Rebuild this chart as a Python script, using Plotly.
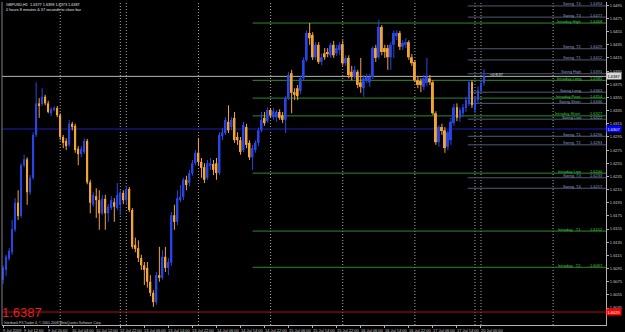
import plotly.graph_objects as go

# ---------------- data (GBPUSD H1, 9 Jul 05:00 -> 20 Jul 01:00) ----------------
opens = [
    1.6078, 1.6093, 1.6110, 1.6120, 1.6154, 1.6195, 1.6175, 1.6252, 1.6261, 1.6211,
    1.6233, 1.6298, 1.6346, 1.6345, 1.6356, 1.6346, 1.6331, 1.6336, 1.6339, 1.6328,
    1.6295, 1.6289, 1.6283, 1.6315, 1.6312, 1.6277, 1.6269, 1.6272, 1.6289, 1.6226,
    1.6192, 1.6205, 1.6199, 1.6179, 1.6201, 1.6179, 1.6187, 1.6196, 1.6187, 1.6192,
    1.6210, 1.6199, 1.6216, 1.6184, 1.6131, 1.6126, 1.6111, 1.6100, 1.6096, 1.6075,
    1.6058, 1.6044, 1.6085, 1.6081, 1.6113, 1.6096, 1.6104, 1.6176, 1.6166, 1.6199,
    1.6204, 1.6230, 1.6225, 1.6240, 1.6255, 1.6271, 1.6257, 1.6249, 1.6233, 1.6251,
    1.6254, 1.6255, 1.6240, 1.6296, 1.6301, 1.6318, 1.6310, 1.6324, 1.6295, 1.6290,
    1.6275, 1.6310, 1.6286, 1.6264, 1.6275, 1.6286, 1.6305, 1.6324, 1.6319, 1.6336,
    1.6325, 1.6325, 1.6333, 1.6328, 1.6321, 1.6354, 1.6392, 1.6363, 1.6369, 1.6365,
    1.6384, 1.6412, 1.6453, 1.6450, 1.6416, 1.6435, 1.6409, 1.6422, 1.6424, 1.6419,
    1.6435, 1.6422, 1.6427, 1.6436, 1.6407, 1.6415, 1.6394, 1.6386, 1.6394, 1.6378,
    1.6369, 1.6381, 1.6378, 1.6386, 1.6430, 1.6416, 1.6462, 1.6430, 1.6430, 1.6416,
    1.6435, 1.6448, 1.6453, 1.6432, 1.6435, 1.6439, 1.6416, 1.6409, 1.6381, 1.6380,
    1.6371, 1.6377, 1.6384, 1.6378, 1.6331, 1.6287, 1.6310, 1.6305, 1.6280, 1.6290,
    1.6316, 1.6340, 1.6324, 1.6331, 1.6339, 1.6346, 1.6378, 1.6336, 1.6351, 1.6366,
    1.6377,
]
highs = [
    1.6100, 1.6116, 1.6126, 1.6169, 1.6202, 1.6214, 1.6255, 1.6268, 1.6264, 1.6237,
    1.6302, 1.6378, 1.6354, 1.6369, 1.6359, 1.6350, 1.6340, 1.6342, 1.6342, 1.6331,
    1.6298, 1.6293, 1.6321, 1.6318, 1.6315, 1.6281, 1.6281, 1.6293, 1.6292, 1.6230,
    1.6211, 1.6217, 1.6214, 1.6207, 1.6207, 1.6193, 1.6205, 1.6202, 1.6225, 1.6214,
    1.6214, 1.6220, 1.6219, 1.6187, 1.6142, 1.6138, 1.6116, 1.6105, 1.6105, 1.6085,
    1.6062, 1.6090, 1.6128, 1.6123, 1.6128, 1.6111, 1.6181, 1.6192, 1.6214, 1.6222,
    1.6233, 1.6236, 1.6245, 1.6260, 1.6275, 1.6293, 1.6263, 1.6255, 1.6260, 1.6263,
    1.6260, 1.6263, 1.6302, 1.6309, 1.6325, 1.6343, 1.6325, 1.6333, 1.6302, 1.6295,
    1.6318, 1.6315, 1.6290, 1.6283, 1.6290, 1.6309, 1.6333, 1.6333, 1.6340, 1.6339,
    1.6339, 1.6336, 1.6337, 1.6333, 1.6357, 1.6394, 1.6397, 1.6369, 1.6374, 1.6388,
    1.6416, 1.6457, 1.6468, 1.6454, 1.6439, 1.6439, 1.6422, 1.6430, 1.6430, 1.6438,
    1.6441, 1.6435, 1.6439, 1.6442, 1.6419, 1.6419, 1.6403, 1.6403, 1.6397, 1.6415,
    1.6389, 1.6391, 1.6391, 1.6433, 1.6435, 1.6473, 1.6465, 1.6435, 1.6435, 1.6439,
    1.6457, 1.6457, 1.6456, 1.6442, 1.6445, 1.6442, 1.6421, 1.6412, 1.6386, 1.6384,
    1.6389, 1.6415, 1.6389, 1.6381, 1.6334, 1.6313, 1.6315, 1.6310, 1.6305, 1.6324,
    1.6345, 1.6346, 1.6340, 1.6345, 1.6356, 1.6381, 1.6381, 1.6357, 1.6372, 1.6381,
    1.6398,
]
lows = [
    1.6072, 1.6084, 1.6107, 1.6116, 1.6151, 1.6169, 1.6172, 1.6249, 1.6192, 1.6207,
    1.6230, 1.6295, 1.6324, 1.6342, 1.6343, 1.6331, 1.6327, 1.6334, 1.6325, 1.6290,
    1.6278, 1.6275, 1.6280, 1.6305, 1.6271, 1.6252, 1.6264, 1.6269, 1.6223, 1.6179,
    1.6189, 1.6172, 1.6154, 1.6176, 1.6154, 1.6166, 1.6184, 1.6166, 1.6184, 1.6176,
    1.6193, 1.6192, 1.6181, 1.6125, 1.6120, 1.6105, 1.6093, 1.6070, 1.6066, 1.6053,
    1.6037, 1.6040, 1.6075, 1.6078, 1.6090, 1.6085, 1.6099, 1.6154, 1.6161, 1.6196,
    1.6199, 1.6214, 1.6220, 1.6236, 1.6252, 1.6252, 1.6233, 1.6225, 1.6230, 1.6245,
    1.6237, 1.6230, 1.6237, 1.6290, 1.6298, 1.6301, 1.6305, 1.6286, 1.6283, 1.6268,
    1.6272, 1.6278, 1.6260, 1.6245, 1.6271, 1.6281, 1.6302, 1.6312, 1.6316, 1.6324,
    1.6321, 1.6318, 1.6321, 1.6316, 1.6301, 1.6351, 1.6331, 1.6351, 1.6351, 1.6360,
    1.6381, 1.6409, 1.6435, 1.6412, 1.6412, 1.6406, 1.6404, 1.6412, 1.6416, 1.6415,
    1.6415, 1.6418, 1.6419, 1.6403, 1.6403, 1.6384, 1.6381, 1.6383, 1.6369, 1.6362,
    1.6356, 1.6377, 1.6371, 1.6383, 1.6409, 1.6413, 1.6419, 1.6415, 1.6397, 1.6397,
    1.6415, 1.6442, 1.6427, 1.6427, 1.6430, 1.6412, 1.6403, 1.6378, 1.6369, 1.6363,
    1.6366, 1.6372, 1.6374, 1.6328, 1.6283, 1.6280, 1.6298, 1.6271, 1.6275, 1.6283,
    1.6312, 1.6319, 1.6318, 1.6325, 1.6333, 1.6342, 1.6339, 1.6331, 1.6346, 1.6363,
    1.6373,
]
closes = [
    1.6096, 1.6113, 1.6122, 1.6155, 1.6195, 1.6175, 1.6252, 1.6261, 1.6211, 1.6233,
    1.6298, 1.6346, 1.6343, 1.6356, 1.6346, 1.6333, 1.6337, 1.6339, 1.6328, 1.6295,
    1.6286, 1.6281, 1.6315, 1.6310, 1.6275, 1.6269, 1.6277, 1.6289, 1.6226, 1.6195,
    1.6207, 1.6199, 1.6179, 1.6201, 1.6179, 1.6189, 1.6199, 1.6189, 1.6207, 1.6210,
    1.6199, 1.6216, 1.6184, 1.6128, 1.6125, 1.6111, 1.6100, 1.6093, 1.6075, 1.6058,
    1.6044, 1.6085, 1.6081, 1.6113, 1.6096, 1.6105, 1.6176, 1.6166, 1.6202, 1.6204,
    1.6230, 1.6222, 1.6240, 1.6255, 1.6271, 1.6257, 1.6248, 1.6230, 1.6255, 1.6255,
    1.6245, 1.6240, 1.6298, 1.6302, 1.6321, 1.6305, 1.6321, 1.6290, 1.6290, 1.6272,
    1.6313, 1.6283, 1.6264, 1.6278, 1.6286, 1.6305, 1.6321, 1.6316, 1.6336, 1.6328,
    1.6334, 1.6333, 1.6324, 1.6321, 1.6354, 1.6389, 1.6362, 1.6359, 1.6357, 1.6384,
    1.6412, 1.6453, 1.6445, 1.6416, 1.6435, 1.6409, 1.6416, 1.6416, 1.6421, 1.6435,
    1.6419, 1.6430, 1.6435, 1.6407, 1.6415, 1.6389, 1.6386, 1.6397, 1.6374, 1.6371,
    1.6384, 1.6386, 1.6386, 1.6430, 1.6415, 1.6462, 1.6424, 1.6424, 1.6416, 1.6435,
    1.6453, 1.6453, 1.6432, 1.6438, 1.6439, 1.6416, 1.6407, 1.6381, 1.6374, 1.6374,
    1.6384, 1.6386, 1.6378, 1.6331, 1.6287, 1.6310, 1.6304, 1.6278, 1.6302, 1.6318,
    1.6340, 1.6324, 1.6336, 1.6340, 1.6351, 1.6378, 1.6343, 1.6351, 1.6366, 1.6377,
    1.6387,
]

# time axis labels (bar index of label, text)
xtick_idx = [0, 7, 15, 23, 31, 39, 47, 55, 63, 71, 79, 87, 95, 103, 111, 119, 127, 135, 143, 151, 159]
xtick_text = ["9 Jul 2009", "9 Jul 12:00", "9 Jul 20:00", "10 Jul 04:00", "10 Jul 12:00",
              "12 Jul 22:00", "13 Jul 06:00", "13 Jul 14:00", "13 Jul 22:00", "14 Jul 06:00",
              "14 Jul 14:00", "14 Jul 22:00", "15 Jul 06:00", "15 Jul 14:00", "15 Jul 22:00",
              "16 Jul 06:00", "16 Jul 14:00", "16 Jul 22:00", "17 Jul 06:00", "17 Jul 14:00",
              "20 Jul 00:00"]
# day separators (bar index)
separators = [19, 39, 41, 65, 89, 113, 137, 157, 159, 183]

ytick_vals = [1.6035, 1.6055, 1.6075, 1.6095, 1.6115, 1.6135, 1.6155, 1.6175, 1.6195, 1.6215,
              1.6235, 1.6255, 1.6275, 1.6295, 1.6315, 1.6335, 1.6355, 1.6375, 1.6395, 1.6415,
              1.6435, 1.6455, 1.6475, 1.6495]
ytick_text = ["1.6035", "1.6055", "1.6075", "1.6095", "1.6115", "1.6135", "1.6155", "1.6175",
              "1.6195", "1.6215", "1.6235", "1.6255", "1.6275", "1.6295", "1.6315", "1.6335",
              "1.6355", "1.6375", "1.6395", "1.6415", "1.6435", "1.6455", "1.6475", "1.6495"]

swing_names = ["Swing  T4", "Swing  T3", "Swing  T2", "Swing  T1", "Swing High", "Swing Long",
               "Swing Short", "Swing Low", "Swing  T1", "Swing  T2", "Swing  T3", "Swing  T4"]
swing_levels = [1.6494, 1.6477, 1.6429, 1.6412, 1.6391, 1.6363, 1.6346, 1.6322, 1.6296, 1.6283,
                1.6233, 1.6217]
intraday_names = ["Intraday High", "Intraday Long", "Intraday Pivot", "Intraday Short",
                  "Intraday Low", "Intraday   T1", "Intraday   T2"]
intraday_levels = [1.6468, 1.6381, 1.6354, 1.6327, 1.6240, 1.6152, 1.6097]

bid_price = 1.6387
blue_level = 1.6307
red_level = 1.6029
header_1 = "GBPUSD,H1  1.6377 1.6398 1.6373 1.6387"
header_2 = "0 hours 8 minutes & 37 seconds to close bar"
countdown = "<0:8:37"
copyright_text = "Interbank FX Trader 4, \u00a9 2001-2008 MetaQuotes Software Corp."

# ---------------- style / geometry ----------------
W, H = 625, 332
ML, MR, MT, MB = 2, 14, 2, 7
X_RANGE = [-0.37, 200.6]
Y_RANGE = [1.60093, 1.6500]
SWING_START = 154.6
INTRADAY_START = 83.0
BLUE = "#2846e6"
ORANGE = "#f2a436"
BODY_W = 0.62
FONT = "Liberation Sans"

PW = W - ML - MR
PH = H - MT - MB


def px_x(p):
    return (p - ML) / PW


def px_y(p):
    return (H - MB - p) / PH


fig = go.Figure()

# candles: wicks (lines) + bodies (bars), split into up / down
idx = list(range(len(opens)))
for up, color in [(True, BLUE), (False, ORANGE)]:
    sel = [i for i in idx if (closes[i] >= opens[i]) == up]
    wx, wy = [], []
    for i in sel:
        wx += [i, i, None]
        wy += [lows[i], highs[i], None]
    fig.add_trace(go.Scatter(x=wx, y=wy, mode="lines", line=dict(color=color, width=1),
                             hoverinfo="skip", showlegend=False))
    fig.add_trace(go.Bar(
        x=sel,
        base=[min(opens[i], closes[i]) for i in sel],
        y=[max(abs(closes[i] - opens[i]), 0.00008) for i in sel],
        width=BODY_W, marker=dict(color=color, line=dict(width=0)),
        hoverinfo="skip", showlegend=False))

shapes = []
annotations = []

# period separators
for s in separators:
    shapes.append(dict(type="line", xref="x", yref="paper", x0=s, x1=s, y0=0, y1=1,
                       line=dict(color="#a8a8a8", width=1, dash="1px,2px"), layer="below"))

# full-width lines
shapes.append(dict(type="line", xref="paper", yref="y", x0=0, x1=1, y0=blue_level, y1=blue_level,
                   line=dict(color="#14147a", width=1.5), layer="below"))
shapes.append(dict(type="line", xref="paper", yref="y", x0=0, x1=1, y0=red_level, y1=red_level,
                   line=dict(color="#b01010", width=1), layer="below"))
shapes.append(dict(type="line", xref="paper", yref="y", x0=0, x1=1, y0=bid_price, y1=bid_price,
                   line=dict(color="#b4b4b4", width=1), layer="below"))

# intraday (green) levels
for name, lv in zip(intraday_names, intraday_levels):
    shapes.append(dict(type="line", xref="x", yref="y", x0=INTRADAY_START, x1=X_RANGE[1],
                       y0=lv, y1=lv, line=dict(color="#2c8c2c", width=1), layer="below"))
    annotations.append(dict(x=193, y=lv, xref="x", yref="y", text=name, showarrow=False,
                            xanchor="right", yanchor="middle", yshift=2,
                            font=dict(size=4, color="#3ccc3c", family=FONT)))
    annotations.append(dict(x=200.4, y=lv, xref="x", yref="y", text=f"{lv:.4f}", showarrow=False,
                            xanchor="right", yanchor="middle", yshift=2,
                            font=dict(size=4, color="#3ccc3c", family=FONT)))

# swing (grey-blue) levels
for name, lv in zip(swing_names, swing_levels):
    shapes.append(dict(type="line", xref="x", yref="y", x0=SWING_START, x1=X_RANGE[1],
                       y0=lv, y1=lv, line=dict(color="#4e5b72", width=1), layer="below"))
    annotations.append(dict(x=193, y=lv, xref="x", yref="y", text=name, showarrow=False,
                            xanchor="right", yanchor="middle", yshift=2,
                            font=dict(size=4, color="#8a9cc0", family=FONT)))
    annotations.append(dict(x=200.4, y=lv, xref="x", yref="y", text=f"{lv:.4f}", showarrow=False,
                            xanchor="right", yanchor="middle", yshift=2,
                            font=dict(size=4, color="#8a9cc0", family=FONT)))

# left frame line
shapes.append(dict(type="line", xref="paper", yref="paper", x0=0, x1=0, y0=0, y1=1,
                   line=dict(color="#808080", width=1)))

# x labels (left aligned at tick, MT4 style)
for i, t in zip(xtick_idx, xtick_text):
    annotations.append(dict(x=i, y=0, xref="x", yref="paper", text=t, showarrow=False,
                            xanchor="left", yanchor="top", yshift=-1, xshift=-2,
                            font=dict(size=4, color="#c8c8c8", family=FONT)))

# price boxes on the axis
for val, bg, fg in [(bid_price, "#d8d8d8", "#000000"), (blue_level, "#0000ff", "#ffffff"),
                    (red_level, "#ff0000", "#ffffff")]:
    annotations.append(dict(x=1, y=val, xref="paper", yref="y", text=f"{val:.4f}",
                            showarrow=False, xanchor="left", yanchor="middle",
                            bgcolor=bg, borderpad=0.5,
                            font=dict(size=4, color=fg, family=FONT)))

# header / info texts
annotations.append(dict(x=px_x(4), y=px_y(1), xref="paper", yref="paper", text=header_1,
                        showarrow=False, xanchor="left", yanchor="top",
                        font=dict(size=3.8, color="#e0e0e0", family=FONT)))
annotations.append(dict(x=px_x(4), y=px_y(5.5), xref="paper", yref="paper", text=header_2,
                        showarrow=False, xanchor="left", yanchor="top",
                        font=dict(size=3.8, color="#e0e0e0", family=FONT)))
annotations.append(dict(x=len(opens) + 0.3, y=bid_price, xref="x", yref="y", text=countdown,
                        showarrow=False, xanchor="left", yanchor="middle", yshift=1,
                        font=dict(size=3.8, color="#e0e0e0", family=FONT)))
annotations.append(dict(x=px_x(1), y=px_y(321.2), xref="paper", yref="paper",
                        text=f"{bid_price:.4f}", showarrow=False, xanchor="left",
                        yanchor="bottom", borderpad=0,
                        font=dict(size=13, color="#e81c1c", family=FONT)))
annotations.append(dict(x=px_x(3), y=px_y(326), xref="paper", yref="paper", text=copyright_text,
                        showarrow=False, xanchor="left", yanchor="bottom", borderpad=0,
                        font=dict(size=3.4, color="#c8c8c8", family=FONT)))

fig.update_layout(
    width=W, height=H,
    margin=dict(l=ML, r=MR, t=MT, b=MB, pad=0),
    paper_bgcolor="#000000", plot_bgcolor="#000000",
    font=dict(family=FONT, color="#c8c8c8"),
    showlegend=False, barmode="overlay",
    shapes=shapes, annotations=annotations,
    xaxis=dict(range=X_RANGE, showgrid=False, zeroline=False,
               showline=True, linecolor="#b0b0b0", linewidth=1,
               tickmode="array", tickvals=xtick_idx, ticks="outside", ticklen=2,
               tickcolor="#b0b0b0", showticklabels=False, fixedrange=True),
    yaxis=dict(range=Y_RANGE, side="right", showgrid=False, zeroline=False,
               showline=True, linecolor="#b0b0b0", linewidth=1,
               tickmode="array", tickvals=ytick_vals, ticktext=ytick_text,
               ticks="outside", ticklen=2, tickcolor="#b0b0b0",
               tickfont=dict(size=4, color="#c8c8c8", family=FONT), fixedrange=True),
)

fig.write_html("out.html")
